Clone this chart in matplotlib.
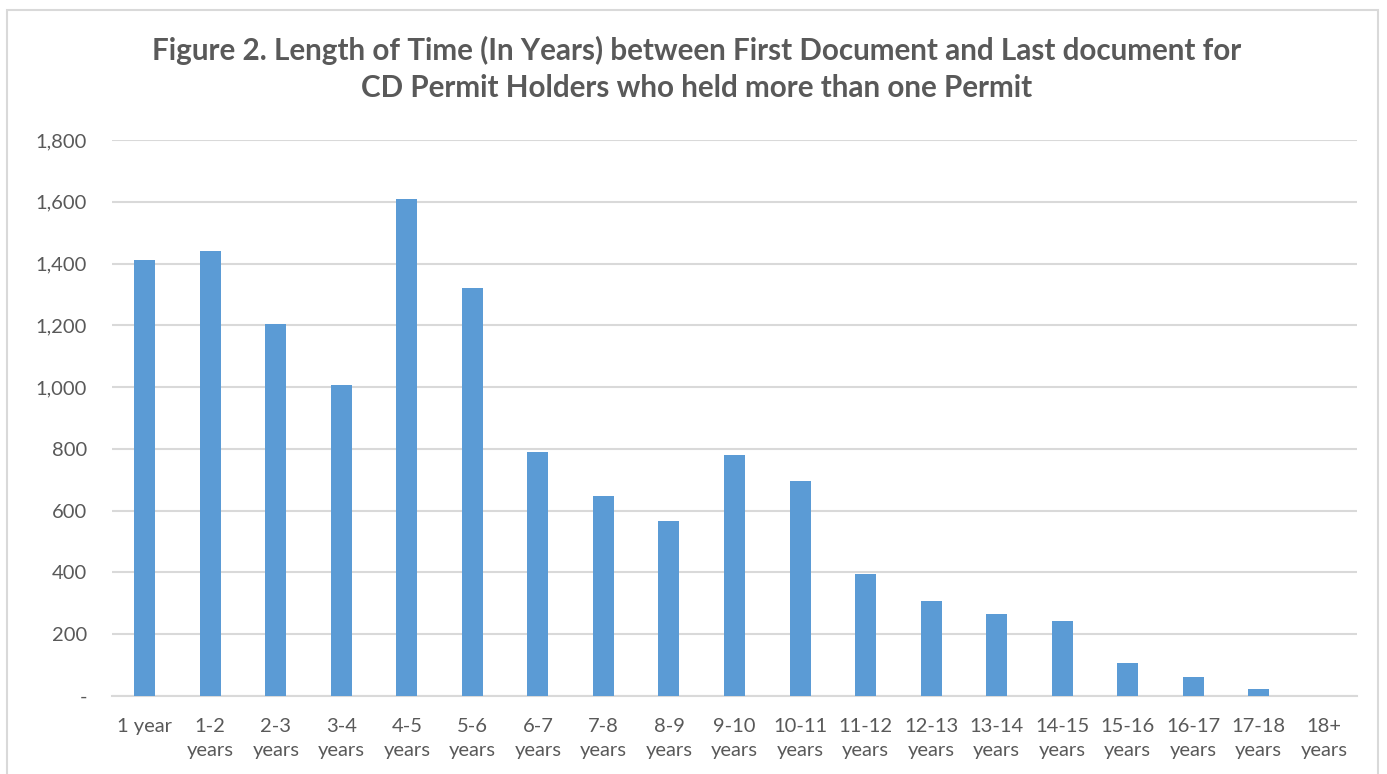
import matplotlib
matplotlib.use("Agg")
import matplotlib.pyplot as plt
from matplotlib.patches import Rectangle
from matplotlib.ticker import FuncFormatter

categories = ["1 year", "1-2\nyears", "2-3\nyears", "3-4\nyears", "4-5\nyears", "5-6\nyears",
              "6-7\nyears", "7-8\nyears", "8-9\nyears", "9-10\nyears", "10-11\nyears",
              "11-12\nyears", "12-13\nyears", "13-14\nyears", "14-15\nyears", "15-16\nyears",
              "16-17\nyears", "17-18\nyears", "18+\nyears"]
values = [1410, 1442, 1205, 1008, 1610, 1320, 790, 647, 567, 780, 697,
          395, 308, 266, 244, 107, 61, 23, 0]
yticks = [0, 200, 400, 600, 800, 1000, 1200, 1400, 1600, 1800]

W, H = 1387, 774
fig = plt.figure(figsize=(W / 100, H / 100), dpi=100)
plt.rcParams['font.family'] = ['Lato', 'DejaVu Sans']
gray = "#595959"

ax = fig.add_axes([112 / W, (H - 696) / H, (1357 - 112) / W, (696 - 140) / H])
x = list(range(len(categories)))
ax.bar(x, values, width=0.32, color="#5b9bd5", zorder=3)
ax.set_xlim(-0.5, len(categories) - 0.5)
ax.set_ylim(0, 1800)
ax.set_yticks(yticks)
ax.yaxis.set_major_formatter(FuncFormatter(lambda v, p: "-" if v == 0 else f"{int(v):,}"))
ax.set_xticks(x)
ax.set_xticklabels(categories, linespacing=1.5)
ax.tick_params(axis='both', length=0, colors=gray, labelsize=14.5)
ax.tick_params(axis='y', pad=18)
ax.tick_params(axis='x', pad=16)
for lab in ax.get_yticklabels():
    lab.set_horizontalalignment('right')
ax.grid(axis='y', color="#d9d9d9", linewidth=1.5, zorder=0)
for s in ["top", "right", "left"]:
    ax.spines[s].set_visible(False)
ax.spines["bottom"].set_color("#d9d9d9")
ax.spines["bottom"].set_linewidth(1.5)

fig.text(697 / W, 1 - 50 / H,
         "Figure 2. Length of Time (In Years) between First Document and Last document for",
         ha="center", va="center", fontsize=21.3, fontweight="bold", color=gray)
fig.text(697 / W, 1 - 88 / H,
         "CD Permit Holders who held more than one Permit",
         ha="center", va="center", fontsize=21.3, fontweight="bold", color=gray)

fig.patches.append(Rectangle((7 / W, -0.05), (1378 - 7) / W, (H - 10) / H + 0.05,
                             transform=fig.transFigure, fill=False,
                             edgecolor="#d9d9d9", linewidth=1.5))

fig.savefig("out.png", dpi=100)
